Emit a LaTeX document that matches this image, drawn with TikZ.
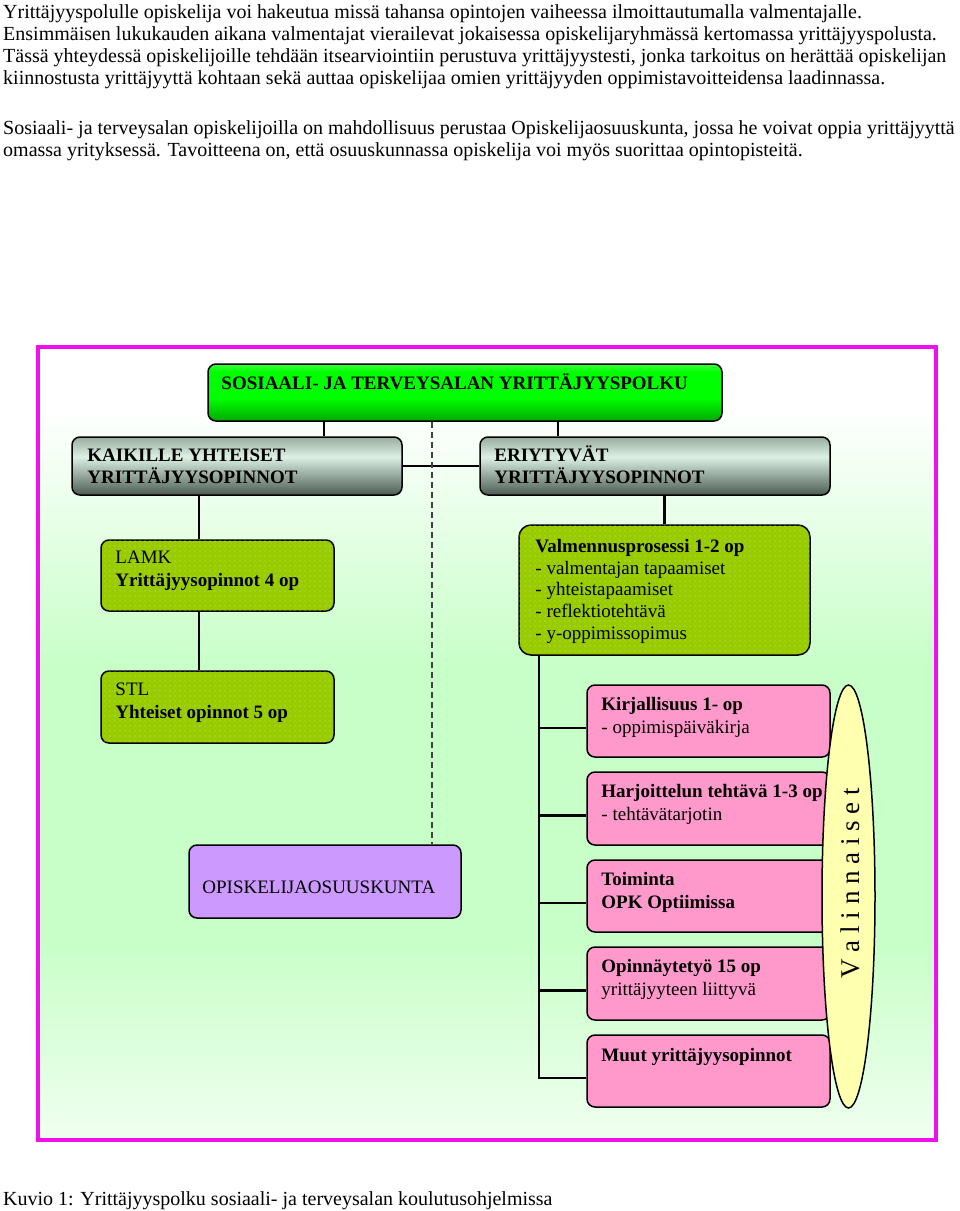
\documentclass[tikz,border=0pt]{standalone}
\usepackage{fontspec}
\setmainfont{Liberation Serif}
\usetikzlibrary{calc,shapes.geometric,patterns.meta}
\definecolor{framec}{HTML}{EE11EE}
\definecolor{bgg}{HTML}{C8FFC8}
\definecolor{bgl}{HTML}{E4FFE4}
\definecolor{bgb}{HTML}{F0FFF0}
\definecolor{limeb}{HTML}{99CC00}
\definecolor{limed}{HTML}{C4E464}
\definecolor{pinkb}{HTML}{FF99CC}
\definecolor{purpb}{HTML}{CC99FF}
\definecolor{yelb}{HTML}{FFFFB0}
\definecolor{grtop}{HTML}{98ACA0}
\definecolor{grmid}{HTML}{DCF0E4}
\definecolor{grbot}{HTML}{4C5C54}
\definecolor{gntop}{HTML}{3CFF3C}
\definecolor{gnmid}{HTML}{00FF00}
\definecolor{gnbot}{HTML}{00A800}
% path occupies 25bp..75bp of the declared shading
\pgfdeclareverticalshading{bgshade}{100bp}{color(0bp)=(bgb); color(25bp)=(bgb); color(37.5bp)=(bgg); color(55bp)=(bgg); color(63bp)=(bgl); color(71bp)=(white); color(75bp)=(white); color(100bp)=(white)}
\pgfdeclareverticalshading{greenshade}{100bp}{color(0bp)=(gnbot); color(25bp)=(gnbot); color(45bp)=(gnmid); color(68bp)=(gnmid); color(75bp)=(gntop); color(100bp)=(gntop)}
\pgfdeclareverticalshading{grayshade}{100bp}{color(0bp)=(grbot); color(25bp)=(grbot); color(58bp)=(grmid); color(75bp)=(grtop); color(100bp)=(grtop)}
\tikzset{
  txt/.style={font=\fontsize{19}{22.3}\selectfont, inner sep=0pt, align=left, anchor=base west},
  bodytxt/.style={txt, font=\fontsize{20}{22.3}\selectfont},
  boxbase/.style={draw=black, line width=1.5pt, rounded corners=8pt, inner sep=0pt},
  greenhead/.style={boxbase, shading=greenshade},
  grayhead/.style={boxbase, shading=grayshade},
  limebox/.style={boxbase, fill=limeb, postaction={pattern={Dots[distance=5pt, radius=0.6pt]}, pattern color=limed}},
  pinkbox/.style={boxbase, fill=pinkb},
  purpbox/.style={boxbase, fill=purpb},
  conn/.style={line width=2.5pt, black},
  dashconn/.style={line width=1.2pt, black!75, dash pattern=on 6pt off 4pt},
}
\begin{document}
\begin{tikzpicture}[x=1pt,y=-1pt]
\useasboundingbox (0,0) rectangle (960,1211);
\fill[white] (0,0) rectangle (960,1211);

% paragraphs (base anchor = last line)
\node[bodytxt] (p1) at (3,84.9) {Yrittäjyyspolulle opiskelija voi hakeutua missä tahansa opintojen vaiheessa ilmoittautumalla valmentajalle.\\
Ensimmäisen lukukauden aikana valmentajat vierailevat jokaisessa opiskelijaryhmässä kertomassa yrittäjyyspolusta.\\
Tässä yhteydessä opiskelijoille tehdään itsearviointiin perustuva yrittäjyystesti, jonka tarkoitus on herättää opiskelijan\\
kiinnostusta yrittäjyyttä kohtaan sekä auttaa opiskelijaa omien yrittäjyyden oppimistavoitteidensa laadinnassa.};
\node[bodytxt] (p2) at (3,156.3) {Sosiaali- ja terveysalan opiskelijoilla on mahdollisuus perustaa Opiskelijaosuuskunta, jossa he voivat oppia yrittäjyyttä\\
omassa yrityksessä. Tavoitteena on, että osuuskunnassa opiskelija voi myös suorittaa opintopisteitä.};

% frame
\shade[shading=bgshade] (38,347) rectangle (936,1140);
\draw[framec, line width=4pt] (38,347) rectangle (936,1140);

% boxes
\node[greenhead, minimum width=514, minimum height=57] (top) at (465,392.5) {};
\node[grayhead, minimum width=330, minimum height=58] (kaik) at (237,466) {};
\node[grayhead, minimum width=350, minimum height=58] (erit) at (655,466) {};
\node[limebox, minimum width=233, minimum height=71] (lamk) at (217.5,575.5) {};
\node[limebox, minimum width=233, minimum height=72] (stl) at (217.5,707) {};
\node[purpbox, minimum width=272, minimum height=73] (opk) at (325,881.5) {};
\node[limebox, rounded corners=12pt, minimum width=291, minimum height=130] (valm) at (664.5,590) {};
\node[pinkbox, minimum width=243, minimum height=72] (k1) at (708.5,721) {};
\node[pinkbox, minimum width=243, minimum height=73] (k2) at (708.5,808.5) {};
\node[pinkbox, minimum width=243, minimum height=72] (k3) at (708.5,896) {};
\node[pinkbox, minimum width=243, minimum height=73] (k4) at (708.5,983.5) {};
\node[pinkbox, minimum width=243, minimum height=72] (k5) at (708.5,1071) {};

% connector coordinates
\coordinate (c1) at (324,0);
\coordinate (c2) at (558,0);
\coordinate (cd) at (432,0);
\coordinate (cl) at (199,0);
\coordinate (ct) at (539,0);

\draw[conn] (top.south -| c1) -- (c1 |- kaik.north);
\draw[conn] (top.south -| c2) -- (c2 |- erit.north);
\draw[conn] (kaik.east) -- (erit.west);
\draw[dashconn] (top.south -| cd) -- (cd |- opk.north);
\draw[conn] (kaik.south -| cl) -- (cl |- lamk.north);
\draw[conn] (lamk.south -| cl) -- (cl |- stl.north);
\draw[conn] (erit.south -| valm.north) -- (valm.north);
\coordinate (b1) at ($(k1.west)+(0,7)$);
\coordinate (b2) at ($(k2.west)+(0,7)$);
\coordinate (b3) at ($(k3.west)+(0,7)$);
\coordinate (b4) at ($(k4.west)+(0,7)$);
\coordinate (b5) at ($(k5.west)+(0,7)$);
\draw[conn] (valm.south -| ct) -- (ct |- b5) -- (b5);
\foreach \b in {b1,b2,b3,b4} \draw[conn] (ct |- \b) -- (\b);

% box texts
\node[txt, font=\fontsize{19}{22.3}\selectfont\bfseries] (ttop) at ($(top.north west)+(14,26)$) {SOSIAALI- JA TERVEYSALAN YRITTÄJYYSPOLKU};
\node[txt, font=\fontsize{19}{22}\selectfont\bfseries] (tkaik) at ($(kaik.north west)+(16,47)$) {KAIKILLE YHTEISET\\YRITTÄJYYSOPINNOT};
\node[txt, font=\fontsize{19}{22}\selectfont\bfseries] (terit) at ($(erit.north west)+(15,47)$) {ERIYTYVÄT\\YRITTÄJYYSOPINNOT};
\node[txt] (tlamk) at ($(lamk.north west)+(15,47)$) {LAMK\\\textbf{Yrittäjyysopinnot 4 op}};
\node[txt] (tstl) at ($(stl.north west)+(15,48)$) {STL\\\textbf{Yhteiset opinnot 5 op}};
\node[txt] (topk) at ($(opk.north west)+(14,49)$) {OPISKELIJAOSUUSKUNTA};
\node[txt, font=\fontsize{19}{21.7}\selectfont] (tvalm) at ($(valm.north west)+(17,115)$) {\textbf{Valmennusprosessi 1-2 op}\\- valmentajan tapaamiset\\- yhteistapaamiset\\- reflektiotehtävä\\- y-oppimissopimus};
\node[txt] (tk1) at ($(k1.north west)+(15,49)$) {\textbf{Kirjallisuus 1- op}\\- oppimispäiväkirja};
\node[txt] (tk2) at ($(k2.north west)+(15,49)$) {\textbf{Harjoittelun tehtävä 1-3 op}\\- tehtävätarjotin};
\node[txt] (tk3) at ($(k3.north west)+(15,49)$) {\textbf{Toiminta}\\\textbf{OPK Optiimissa}};
\node[txt] (tk4) at ($(k4.north west)+(15,49)$) {\textbf{Opinnäytetyö 15 op}\\yrittäjyyteen liittyvä};
\node[txt] (tk5) at ($(k5.north west)+(15,27)$) {\textbf{Muut yrittäjyysopinnot}};

% Valinnaiset
\node[ellipse, draw=black, line width=1.5pt, fill=yelb, minimum width=53, minimum height=423, inner sep=0pt] (val) at (848.5,896.5) {};
\node[font=\fontsize{27}{30}\selectfont, rotate=90, inner sep=0pt] (tval) at (850.5,883) {V a l i n n a i s e t};

% caption
\node[bodytxt] (cap) at (3,1205) {Kuvio 1: Yrittäjyyspolku sosiaali- ja terveysalan koulutusohjelmissa};
\end{tikzpicture}
\end{document}
